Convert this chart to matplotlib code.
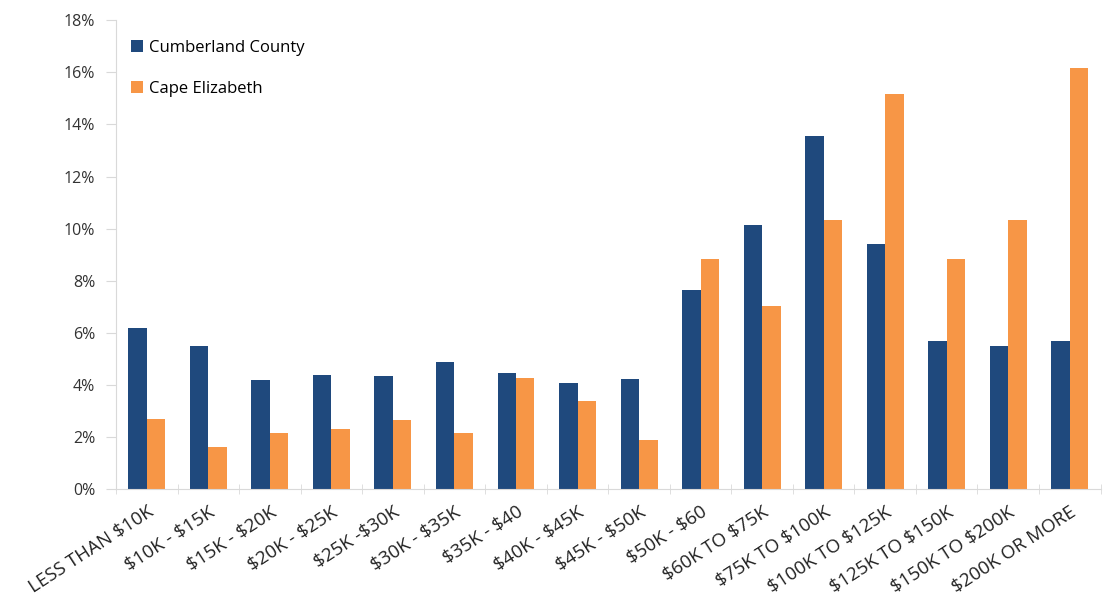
import matplotlib.pyplot as plt
import matplotlib.ticker as mticker
import numpy as np

categories = ["LESS THAN $10K", "$10K - $15K", "$15K - $20K", "$20K - $25K",
              "$25K -$30K", "$30K - $35K", "$35K - $40", "$40K - $45K",
              "$45K - $50K", "$50K - $60", "$60K TO $75K", "$75K TO $100K",
              "$100K TO $125K", "$125K TO $150K", "$150K TO $200K", "$200K OR MORE"]
cumberland = [6.2, 5.5, 4.2, 4.4, 4.35, 4.9, 4.45, 4.08, 4.23, 7.65, 10.15,
              13.55, 9.42, 5.68, 5.5, 5.68]
cape = [2.7, 1.62, 2.15, 2.3, 2.65, 2.15, 4.27, 3.38, 1.9, 8.82, 7.05,
        10.32, 15.18, 8.82, 10.35, 16.15]

plt.rcParams['font.family'] = ['Open Sans', 'DejaVu Sans']
plt.rcParams['text.parse_math'] = False

fig = plt.figure(figsize=(11.1, 6.13), dpi=100)
ax = fig.add_axes([0.1045, 0.202, 0.887, 0.765])

x = np.arange(len(categories))
w = 0.3
ax.bar(x - w/2, cumberland, w, color='#1F497D', label='Cumberland County')
ax.bar(x + w/2, cape, w, color='#F79646', label='Cape Elizabeth')

ax.set_xlim(-0.5, len(categories) - 0.5)
ax.set_ylim(0, 18)
ax.set_yticks(np.arange(0, 19, 2))
ax.yaxis.set_major_formatter(mticker.FuncFormatter(lambda v, p: '%d%%' % v))

ax.set_xticks(x)
ax.set_xticklabels(categories, rotation=33, ha='right', rotation_mode='anchor',
                   fontsize=13.5, color='#222222')
ax.set_xticks(np.arange(-0.5, len(categories), 1), minor=True)
ax.tick_params(axis='x', which='major', length=0, pad=10)
ax.tick_params(axis='x', which='minor', length=7, color='#d9d9d9', direction='inout')
ax.tick_params(axis='y', length=7, color='#d9d9d9', labelsize=11.5, labelcolor='#333333',
               pad=8)

for s in ['top', 'right']:
    ax.spines[s].set_visible(False)
for s in ['left', 'bottom']:
    ax.spines[s].set_color('#d9d9d9')

ax.legend(loc='upper left', bbox_to_anchor=(0.0, 0.99), frameon=False, fontsize=12,
          handlelength=0.7, handleheight=0.7, handletextpad=0.4, labelspacing=1.5)

fig.savefig('out.png', dpi=100)
